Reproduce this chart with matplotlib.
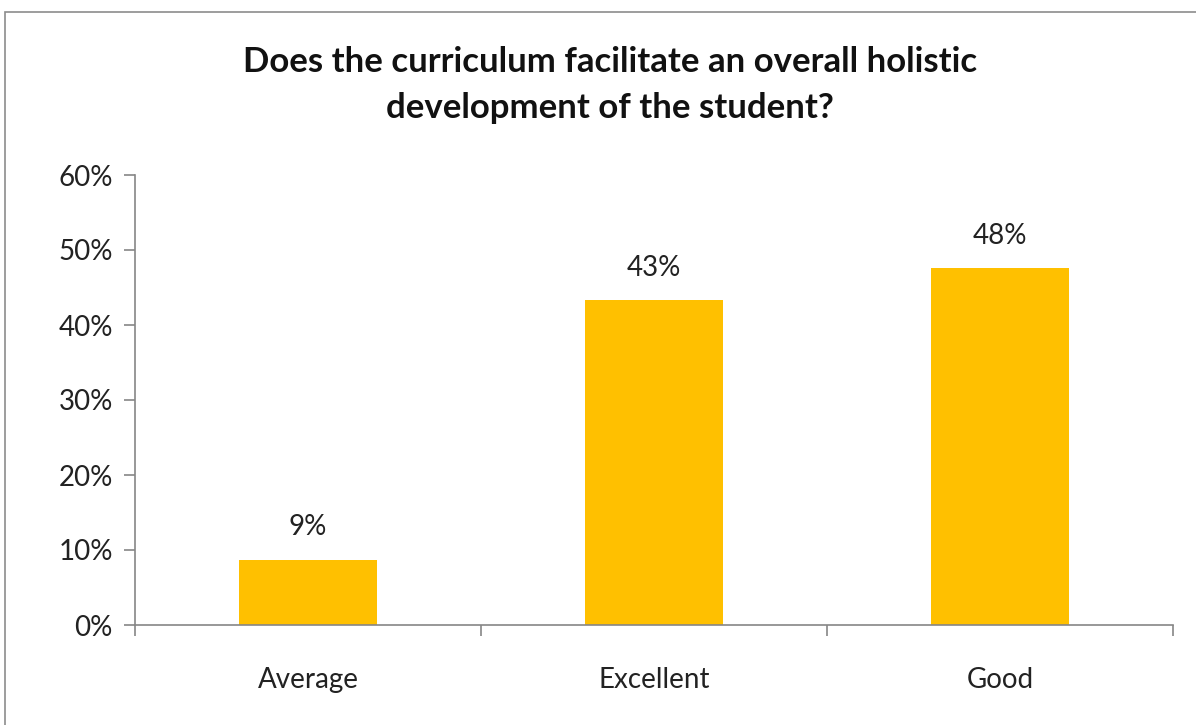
import matplotlib
matplotlib.use("Agg")
import matplotlib.pyplot as plt
from matplotlib.patches import Rectangle

categories = ["Average", "Excellent", "Good"]
values = [8.7, 43.3, 47.6]
labels = ["9%", "43%", "48%"]
title = "Does the curriculum facilitate an overall holistic\ndevelopment of the student?"

BAR_COLOR = "#FFC000"
AXIS_COLOR = "#868686"

plt.rcParams["font.family"] = ["Lato", "DejaVu Sans"]

fig = plt.figure(figsize=(11.96, 7.25), dpi=100, facecolor="white")

# chart frame (runs off the right and bottom edge in the reference)
fig.patches.append(Rectangle((5 / 1196, -0.2), 1.5, 1.2 + (1 - 12 / 725) - 1,
                             transform=fig.transFigure, fill=False,
                             ec="#8c8c8c", lw=1.2))

ax = fig.add_axes([135 / 1196, 100 / 725, (1173 - 135) / 1196, 450 / 725])
x = list(range(len(categories)))
ax.bar(x, values, width=0.396, color=BAR_COLOR, zorder=2)

for xi, v, lab in zip(x, values, labels):
    ax.text(xi, v + 2.6, lab, ha="center", va="bottom", fontsize=20, color="#222222")

ax.set_xlim(-0.5, len(categories) - 0.5)
ax.set_ylim(0, 60)
ax.set_yticks(range(0, 61, 10))
ax.set_yticklabels([f"{t}%" for t in range(0, 61, 10)], fontsize=20, color="#222222")

# ticks between categories, labels at centres
ax.set_xticks([i - 0.5 for i in range(len(categories) + 1)])
ax.set_xticklabels([])
ax.set_xticks(x, minor=True)
ax.set_xticklabels(categories, minor=True, fontsize=20, color="#222222")
ax.tick_params(axis="x", which="major", length=8, color=AXIS_COLOR, width=1.2)
ax.tick_params(axis="x", which="minor", length=0, pad=30)
ax.tick_params(axis="y", length=8, color=AXIS_COLOR, width=1.2, pad=8)

for side in ["top", "right"]:
    ax.spines[side].set_visible(False)
for side in ["left", "bottom"]:
    ax.spines[side].set_color(AXIS_COLOR)
    ax.spines[side].set_linewidth(1.2)

fig.text(610 / 1196, 1 - 85 / 725, title, ha="center", va="center",
         fontsize=25, fontweight="bold", color="#111111", linespacing=1.5)

fig.savefig("out.png", dpi=100, facecolor="white")
